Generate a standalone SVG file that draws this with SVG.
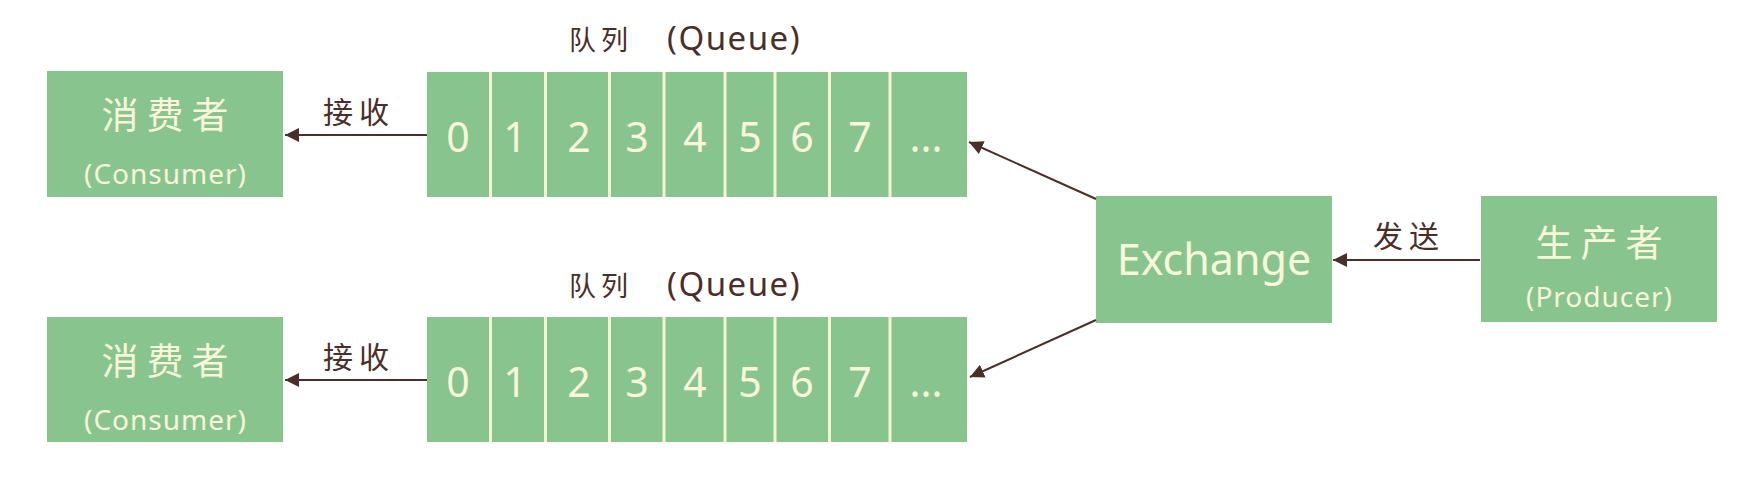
<svg xmlns="http://www.w3.org/2000/svg" width="1750" height="494" viewBox="0 0 1750 494">
<style>
.box{fill:#88c48e}
.div{stroke:#f6f3d2;stroke-width:3}
.t{fill:#f9f6da;font-family:"Noto Sans","Noto Sans CJK SC",sans-serif;text-anchor:middle}
.cn{font-size:37px;letter-spacing:8px}
.en{font-size:28px;letter-spacing:1px}
.dg{font-size:41px}
.lbl{fill:#4a2e27;font-family:"Noto Sans","Noto Sans CJK SC",sans-serif;text-anchor:middle;font-size:30px}
.ttl{fill:#4a2e27;font-family:"Noto Sans","Noto Sans CJK SC",sans-serif;text-anchor:start}
.tc{font-size:27px;letter-spacing:5px}
.tq{font-size:33px;letter-spacing:1.5px}
.cl{letter-spacing:6px}
.ln{stroke:#4a2e27;stroke-width:2;fill:none;marker-end:url(#ah)}
</style>
<defs>
<marker id="ah" markerUnits="userSpaceOnUse" markerWidth="16" markerHeight="16" refX="14" refY="7" orient="auto">
<path d="M0,0 L14,7 L0,14 Z" fill="#4a2e27"/>
</marker>
</defs>

<g id="consumer1">
<rect class="box" x="47" y="71" width="236" height="126"/>
<text class="t cn" x="169" y="129">消费者</text>
<text class="t en" x="165.5" y="184">(Consumer)</text>
</g>
<g id="consumer2">
<rect class="box" x="47" y="317" width="236" height="125"/>
<text class="t cn" x="169" y="375">消费者</text>
<text class="t en" x="165.5" y="430">(Consumer)</text>
</g>

<g id="queue1">
<text class="ttl" x="569" y="50"><tspan class="tc">队列</tspan><tspan class="tq" x="667">(Queue)</tspan></text>
<rect class="box" x="427" y="72" width="540" height="125"/>
<path class="div" d="M490.5 72V197M545.5 72V197M609.5 72V197M664 72V197M725 72V197M775 72V197M829.5 72V197M890 72V197"/>
<text class="t dg" x="458" y="152">0</text>
<text class="t dg" x="515" y="152">1</text>
<text class="t dg" x="579" y="152">2</text>
<text class="t dg" x="637" y="152">3</text>
<text class="t dg" x="695" y="152">4</text>
<text class="t dg" x="750" y="152">5</text>
<text class="t dg" x="802" y="152">6</text>
<text class="t dg" x="860" y="152">7</text>
<text class="t dg" x="926" y="152">...</text>
</g>
<g id="queue2">
<text class="ttl" x="569" y="296"><tspan class="tc">队列</tspan><tspan class="tq" x="667">(Queue)</tspan></text>
<rect class="box" x="427" y="317" width="540" height="125"/>
<path class="div" d="M490.5 317V442M545.5 317V442M609.5 317V442M664 317V442M725 317V442M775 317V442M829.5 317V442M890 317V442"/>
<text class="t dg" x="458" y="397">0</text>
<text class="t dg" x="515" y="397">1</text>
<text class="t dg" x="579" y="397">2</text>
<text class="t dg" x="637" y="397">3</text>
<text class="t dg" x="695" y="397">4</text>
<text class="t dg" x="750" y="397">5</text>
<text class="t dg" x="802" y="397">6</text>
<text class="t dg" x="860" y="397">7</text>
<text class="t dg" x="926" y="397">...</text>
</g>

<g id="exchange">
<rect class="box" x="1096" y="196" width="236" height="127"/>
<text class="t" x="1214" y="275" font-size="43">Exchange</text>
</g>

<g id="producer">
<rect class="box" x="1481" y="196" width="236" height="126"/>
<text class="t cn" x="1603" y="257">生产者</text>
<text class="t en" x="1599.5" y="307">(Producer)</text>
</g>

<g id="connectors">
<path class="ln" d="M427 135H285"/>
<text class="lbl cl" x="359" y="123">接收</text>
<path class="ln" d="M427 380H285"/>
<text class="lbl cl" x="359" y="368">接收</text>
<path class="ln" d="M1480 260H1333"/>
<text class="lbl cl" x="1409" y="247">发送</text>
<path class="ln" d="M1096 199L969 142"/>
<path class="ln" d="M1096 320L970 377"/>
</g>
</svg>
